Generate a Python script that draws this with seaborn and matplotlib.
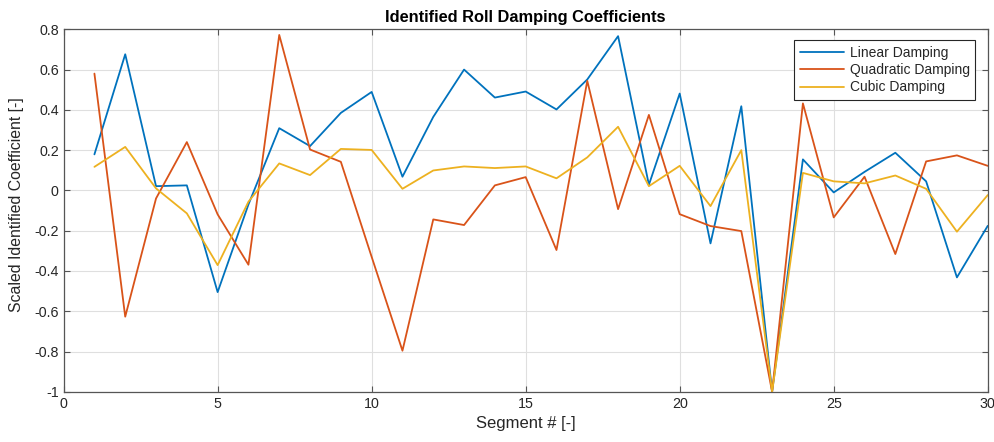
import numpy as np
import pandas as pd
import matplotlib
matplotlib.use("Agg")
import matplotlib.pyplot as plt
import seaborn as sns

segments = list(range(1, 31))

linear_damping = [0.179, 0.676, 0.021, 0.025, -0.505, -0.07, 0.309, 0.220, 0.385, 0.489,
                  0.068, 0.365, 0.600, 0.461, 0.491, 0.402, 0.551, 0.766, 0.028, 0.481,
                  -0.263, 0.418, -1.000, 0.154, -0.010, 0.092, 0.187, 0.045, -0.432, -0.176]

quadratic_damping = [0.580, -0.627, -0.040, 0.240, -0.119, -0.369, 0.772, 0.203, 0.142, -0.330,
                     -0.796, -0.144, -0.172, 0.025, 0.066, -0.296, 0.544, -0.093, 0.375, -0.118,
                     -0.177, -0.202, -1.000, 0.432, -0.134, 0.068, -0.316, 0.144, 0.174, 0.122]

cubic_damping = [0.117, 0.216, 0.010, -0.114, -0.371, -0.056, 0.134, 0.076, 0.206, 0.201,
                 0.008, 0.099, 0.119, 0.111, 0.119, 0.060, 0.164, 0.316, 0.021, 0.122,
                 -0.078, 0.200, -1.000, 0.087, 0.045, 0.035, 0.074, 0.008, -0.205, -0.023]

series_names = ["Linear Damping", "Quadratic Damping", "Cubic Damping"]
series_colors = ["#0072BD", "#D95319", "#EDB120"]

x_ticks = [0, 5, 10, 15, 20, 25, 30]
y_ticks = [-1, -0.8, -0.6, -0.4, -0.2, 0, 0.2, 0.4, 0.6, 0.8]
y_tick_labels = ["-1", "-0.8", "-0.6", "-0.4", "-0.2", "0", "0.2", "0.4", "0.6", "0.8"]

df = pd.concat([
    pd.DataFrame({"Segment": segments, "Coefficient": vals, "Type": name})
    for name, vals in zip(series_names, [linear_damping, quadratic_damping, cubic_damping])
], ignore_index=True)

sns.set_theme(style="white")
plt.rcParams["font.family"] = ["Liberation Sans", "DejaVu Sans"]

fig = plt.figure(figsize=(9.94, 4.42), dpi=100)
ax = fig.add_axes([0.064, 0.1136, 0.9297, 0.8201])

sns.lineplot(data=df, x="Segment", y="Coefficient", hue="Type",
             hue_order=series_names, palette=series_colors,
             linewidth=1.3, ax=ax, legend=True)

ax.set_xlim(0, 30)
ax.set_ylim(-1, 0.8)
ax.set_xticks(x_ticks)
ax.set_xticklabels([str(t) for t in x_ticks])
ax.set_yticks(y_ticks)
ax.set_yticklabels(y_tick_labels)

ax.grid(True, color="#dfdfdf", linewidth=0.8)
ax.set_axisbelow(True)

axis_col = "#262626"
for side in ["left", "right", "top", "bottom"]:
    ax.spines[side].set_visible(True)
    ax.spines[side].set_color("#555555")
    ax.spines[side].set_linewidth(0.9)

ax.tick_params(axis="both", which="both", direction="in", length=4, width=0.8,
               colors="#555555", labelcolor=axis_col, labelsize=10.3,
               top=True, right=True, bottom=True, left=True)

ax.set_xlabel("Segment # [-]", fontsize=12, color=axis_col, labelpad=4)
ax.set_ylabel("Scaled Identified Coefficient [-]", fontsize=11.4, color=axis_col, labelpad=5)
ax.yaxis.set_label_coords(-0.043, 0.515)
ax.set_title("Identified Roll Damping Coefficients", fontsize=11.8, fontweight="bold",
             color="black", pad=5)

leg = ax.legend(loc="upper right", bbox_to_anchor=(0.9863, 0.9705), borderaxespad=0,
                fontsize=10, frameon=True, fancybox=False, edgecolor="#262626", framealpha=1,
                handlelength=3.2, handletextpad=0.4, borderpad=0.4, labelspacing=0.25)
leg.get_frame().set_linewidth(0.8)
for t in leg.get_texts():
    t.set_color(axis_col)

fig.savefig("out.png", dpi=100)
